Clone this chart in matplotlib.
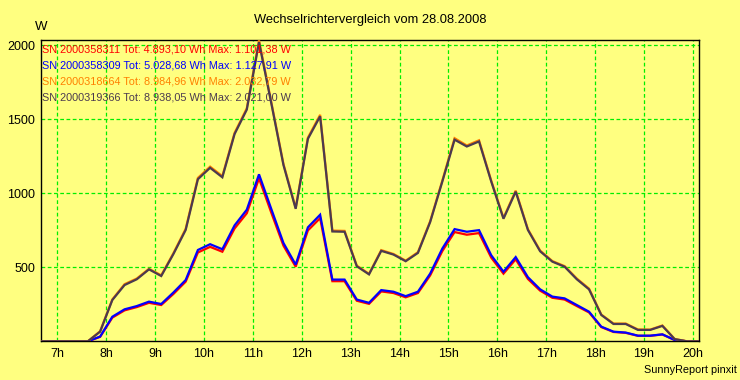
import numpy as np
import matplotlib
matplotlib.use("Agg")
import matplotlib.pyplot as plt

# ---- data (15-minute samples) ----
start_hour = 6.625
step_hours = 0.25

sn1_red = [0, 0, 0, 0, 0, 30, 160, 209, 231, 260, 245, 320, 403, 600, 638, 605,
           762, 865, 1101, 870, 646, 504, 749, 832, 406, 406, 274, 253, 337, 326,
           297, 326, 445, 610, 738, 720, 731, 565, 457, 554, 421, 342, 294, 282,
           238, 195, 96, 63, 57, 37, 37, 46, 9, 0, 0]
sn2_blue = [0, 0, 0, 0, 0, 32, 166, 216, 238, 268, 252, 330, 414, 617, 656, 622,
            783, 889, 1128, 895, 664, 518, 770, 855, 417, 417, 282, 260, 346, 335,
            305, 335, 457, 627, 758, 740, 751, 581, 470, 569, 433, 351, 302, 290,
            245, 200, 99, 65, 59, 38, 38, 47, 9, 0, 0]
sn3_orange = [0, 0, 0, 0, 0, 68, 283, 386, 424, 490, 446, 596, 760, 1104, 1180, 1116,
              1408, 1574, 2033, 1618, 1198, 901, 1376, 1530, 748, 746, 511, 456, 616, 590,
              545, 602, 811, 1087, 1372, 1323, 1358, 1085, 834, 1018, 757, 613, 542, 508,
              424, 356, 181, 120, 120, 80, 79, 107, 16, 0, 0]
sn4_dark = [0, 0, 0, 0, 0, 65, 279, 380, 419, 486, 441, 590, 752, 1095, 1172, 1108,
            1400, 1565, 2021, 1610, 1191, 895, 1368, 1520, 742, 740, 507, 452, 611, 586,
            541, 597, 805, 1080, 1362, 1316, 1350, 1079, 828, 1011, 752, 608, 538, 504,
            419, 351, 178, 117, 117, 77, 77, 104, 15, 0, 0]

legend_texts = [
    "SN 2000358311 Tot: 4.893,10 Wh Max: 1.101,38 W",
    "SN 2000358309 Tot: 5.028,68 Wh Max: 1.127,91 W",
    "SN 2000318664 Tot: 8.984,96 Wh Max: 2.032,79 W",
    "SN 2000319366 Tot: 8.938,05 Wh Max: 2.021,00 W",
]
hour_ticks = list(range(7, 21))
hour_labels = [f"{h}h" for h in hour_ticks]
y_ticks = [500, 1000, 1500, 2000]
title = "Wechselrichtervergleich vom 28.08.2008"

series = [sn1_red, sn2_blue, sn3_orange, sn4_dark]
colors = ["#FF0000", "#0000FF", "#FF8000", "#4B3A4F"]

times = start_hour + step_hours * np.arange(len(sn1_red))

plt.rcParams['font.family'] = ['Liberation Sans', 'DejaVu Sans']
bg = "#FFFF80"
W, H = 740, 380
fig = plt.figure(figsize=(W / 100, H / 100), dpi=100, facecolor=bg)
ax = fig.add_axes([40.7 / W, 1 - 341.3 / H, (699.3 - 40.7) / W, (341.3 - 40.4) / H])
ax.set_facecolor(bg)

for vals, c in zip(series, colors):
    ax.plot(times, vals, color=c, lw=1.6, solid_joinstyle='miter', zorder=3)

ax.set_xlim(6.66, 20.13)
ax.set_ylim(0, 2032.79)
ax.set_xticks(hour_ticks)
ax.set_xticklabels(hour_labels)
ax.set_yticks(y_ticks)
ax.tick_params(axis='both', length=0, labelsize=9, colors='black')
ax.tick_params(axis='x', pad=5)
ax.tick_params(axis='y', pad=4)
ax.grid(True, color='#00EE00', linestyle=(0, (3, 2)), linewidth=0.9, zorder=1)
for s in ax.spines.values():
    s.set_color('black')
    s.set_linewidth(1.0)

fig.text(370 / W, 1 - 20 / H, title, ha='center', va='center', fontsize=9.3)
fig.text(41 / W, 1 - 27 / H, "W", ha='center', va='center', fontsize=9.5)
fig.text(737 / W, 1 - 370 / H, "SunnyReport pinxit", ha='right', va='center', fontsize=7.8)

for i, (t, c) in enumerate(zip(legend_texts, colors)):
    fig.text(42 / W, 1 - (49 + 16 * i) / H, t, ha='left', va='center', fontsize=7.8, color=c)

fig.savefig("out.png", dpi=100, facecolor=bg)
